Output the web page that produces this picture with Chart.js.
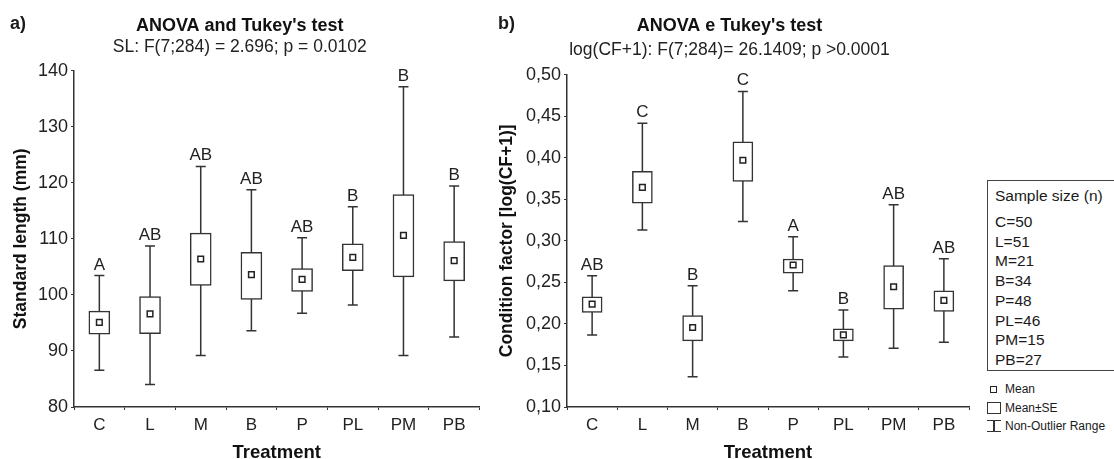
<!DOCTYPE html>
<html>
<head>
<meta charset="utf-8">
<script src="https://cdn.jsdelivr.net/npm/chart.js@4.4.1/dist/chart.umd.min.js"></script>
<style>
  body { margin: 0; background: #fff; font-family: "Liberation Sans", Arial, sans-serif; color: #1a1a1a; }
  #wrap { position: relative; width: 1114px; height: 459px; overflow: hidden; }
  canvas { position: absolute; top: 0; }
  .tag { position: absolute; top: 13px; font-weight: bold; font-size: 18px; }
  #sizes { position: absolute; left: 987px; top: 180px; width: 170px; height: 189px; border: 1px solid #444; font-size: 15.5px; }
  #sizes .head { position: absolute; left: 7px; top: 6px; }
  #sizes ul { list-style: none; margin: 0; padding: 0; position: absolute; left: 7px; top: 31px; line-height: 19.7px; }
  #keys { position: absolute; left: 987px; top: 380px; font-size: 12px; }
  #keys div { position: relative; height: 18.5px; line-height: 18px; padding-left: 18px; }
  .ico { position: absolute; box-sizing: border-box; }
</style>
</head>
<body>
<div id="wrap">
  <canvas id="chartSL" width="492" height="464" style="left:0"></canvas>
  <canvas id="chartCF" width="490" height="464" style="left:490px"></canvas>
  <div class="tag" style="left:10px">a)</div>
  <div class="tag" style="left:498px">b)</div>
  <div id="sizes">
    <div class="head">Sample size (n)</div>
    <ul id="sizeList"></ul>
  </div>
  <div id="keys">
    <div><span class="ico" style="left:3px;top:6px;width:7px;height:7px;border:1.5px solid #222"></span>Mean</div>
    <div><span class="ico" style="left:0;top:3px;width:14px;height:12px;border:1.5px solid #333"></span>Mean±SE</div>
    <div><span class="ico" style="left:0;top:3px;width:14px;height:12px;border-top:1.5px solid #333;border-bottom:1.5px solid #333"></span><span class="ico" style="left:6px;top:3px;width:1.5px;height:12px;background:#333"></span>Non-Outlier Range</div>
  </div>
</div>
<script>
const treatments = ['C', 'L', 'M', 'B', 'P', 'PL', 'PM', 'PB'];
const sampleSizes = [50, 51, 21, 34, 48, 46, 15, 27];

// a) standard length (mm)
const slMean = [95.1, 96.6, 106.4, 103.6, 102.75, 106.7, 110.6, 106.1];
const slSeLow = [93.0, 93.1, 101.7, 99.2, 100.6, 104.3, 103.2, 102.5];
const slSeHigh = [97.1, 99.7, 111.0, 107.6, 104.7, 109.1, 117.9, 109.5];
const slMin = [86.55, 84.0, 89.2, 93.6, 96.7, 98.2, 89.2, 92.5];
const slMax = [103.45, 108.7, 122.9, 118.75, 110.2, 115.7, 137.1, 119.4];
const slGroups = ['A', 'AB', 'AB', 'AB', 'AB', 'B', 'B', 'B'];

// b) condition factor log(CF+1)
const cfMean = [0.2238, 0.3643, 0.1957, 0.3969, 0.2709, 0.1867, 0.2447, 0.2283];
const cfSeLow = [0.2138, 0.3454, 0.1795, 0.3715, 0.2609, 0.1795, 0.2178, 0.215];
const cfSeHigh = [0.2326, 0.3836, 0.2101, 0.419, 0.2781, 0.194, 0.2701, 0.2399];
const cfMin = [0.1867, 0.313, 0.1365, 0.3232, 0.2399, 0.1601, 0.1707, 0.178];
const cfMax = [0.258, 0.4416, 0.246, 0.4798, 0.305, 0.2166, 0.3433, 0.2785];
const cfGroups = ['AB', 'C', 'B', 'C', 'A', 'B', 'AB', 'AB'];

document.getElementById('sizeList').innerHTML =
  treatments.map((t, i) => `<li>${t}=${sampleSizes[i]}</li>`).join('');

const ink = '#333';
const FONT = '"Liberation Sans", Arial, sans-serif';

// whiskers under the boxes, group letters above the whiskers
const whiskerPlugin = {
  id: 'whiskers',
  beforeDatasetsDraw(chart, args, opts) {
    const { ctx, scales: { x, y } } = chart;
    ctx.save();
    ctx.strokeStyle = ink;
    ctx.lineWidth = 1.5;
    opts.low.forEach((lo, i) => {
      const px = x.getPixelForValue(i);
      const yLo = y.getPixelForValue(lo);
      const yHi = y.getPixelForValue(opts.high[i]);
      ctx.beginPath();
      ctx.moveTo(px, yLo); ctx.lineTo(px, yHi);
      ctx.moveTo(px - 5, yLo); ctx.lineTo(px + 5, yLo);
      ctx.moveTo(px - 5, yHi); ctx.lineTo(px + 5, yHi);
      ctx.stroke();
    });
    ctx.restore();
  },
  afterDatasetsDraw(chart, args, opts) {
    const { ctx, scales: { x, y } } = chart;
    ctx.save();
    ctx.fillStyle = '#222';
    ctx.font = '17px ' + FONT;
    ctx.textAlign = 'center';
    ctx.textBaseline = 'alphabetic';
    opts.letters.forEach((l, i) => {
      ctx.fillText(l, x.getPixelForValue(i), y.getPixelForValue(opts.high[i]) - 6);
    });
    ctx.restore();
  }
};

function makeChart(id, cfg) {
  const ctx = document.getElementById(id).getContext('2d');
  return new Chart(ctx, {
    type: 'bar',
    data: {
      labels: treatments,
      datasets: [{
        type: 'line',
        data: cfg.mean,
        showLine: false,
        pointStyle: 'rect',
        pointRadius: 4,
        pointBackgroundColor: '#fff',
        pointBorderColor: '#222',
        pointBorderWidth: 1.5,
        order: 1
      }, {
        data: cfg.mean.map((m, i) => [cfg.seLow[i], cfg.seHigh[i]]),
        backgroundColor: '#fff',
        borderColor: ink,
        borderWidth: 1.5,
        borderSkipped: false,
        barThickness: cfg.boxWidth,
        order: 2
      }]
    },
    options: {
      responsive: false,
      animation: false,
      layout: { padding: { left: 0, right: cfg.padRight, top: 0, bottom: 0 } },
      plugins: {
        legend: { display: false },
        tooltip: { enabled: false },
        title: {
          display: true,
          text: cfg.title,
          color: '#111',
          font: { family: FONT, size: 18, weight: 'bold' },
          padding: { top: 15, bottom: cfg.gap }
        },
        subtitle: {
          display: true,
          text: cfg.subtitle,
          color: '#222',
          font: { family: FONT, size: 17.5 },
          padding: { top: 0, bottom: cfg.subGap }
        },
        whiskers: { low: cfg.min, high: cfg.max, letters: cfg.letters }
      },
      scales: {
        x: {
          grid: { drawOnChartArea: false, tickLength: 3, color: ink },
          border: { color: ink, width: 1.5 },
          ticks: { color: '#222', padding: 5, font: { family: FONT, size: 17 } },
          title: {
            display: true, text: 'Treatment', color: '#111',
            font: { family: FONT, size: 18.5, weight: 'bold' },
            padding: { top: 0, bottom: 0 }
          },
          afterFit: s => { s.height = 57; }
        },
        y: {
          min: cfg.yMin,
          max: cfg.yMax,
          grid: { drawOnChartArea: false, tickLength: 3, color: ink },
          border: { color: ink, width: 1.5 },
          ticks: {
            stepSize: cfg.step, color: '#222', padding: 3,
            font: { family: FONT, size: 18 },
            callback: cfg.fmt
          },
          title: {
            display: true, text: cfg.yTitle, color: '#111',
            font: { family: FONT, size: 17.5, weight: 'bold' },
            padding: { top: cfg.yTitlePad, bottom: 0 }
          },
          afterFit: s => { s.width = cfg.axisLeft; }
        }
      }
    },
    plugins: [whiskerPlugin]
  });
}

makeChart('chartSL', {
  title: "ANOVA and Tukey's test",
  subtitle: 'SL: F(7;284) = 2.696; p = 0.0102',
  yTitle: 'Standard length (mm)',
  mean: slMean, seLow: slSeLow, seHigh: slSeHigh, min: slMin, max: slMax, letters: slGroups,
  yMin: 80, yMax: 140, step: 10,
  fmt: v => v,
  boxWidth: 21, padRight: 12.5, axisLeft: 74, yTitlePad: 11,
  gap: 0, subGap: 13
});

makeChart('chartCF', {
  title: "ANOVA e Tukey's test",
  subtitle: 'log(CF+1): F(7;284)= 26.1409; p >0.0001',
  yTitle: 'Condition factor [log(CF+1)]',
  mean: cfMean, seLow: cfSeLow, seHigh: cfSeHigh, min: cfMin, max: cfMax, letters: cfGroups,
  yMin: 0.10, yMax: 0.50, step: 0.05,
  fmt: v => v.toFixed(2).replace('.', ','),
  boxWidth: 20, padRight: 11, axisLeft: 77, yTitlePad: 7,
  gap: 3, subGap: 14
});
</script>
</body>
</html>
